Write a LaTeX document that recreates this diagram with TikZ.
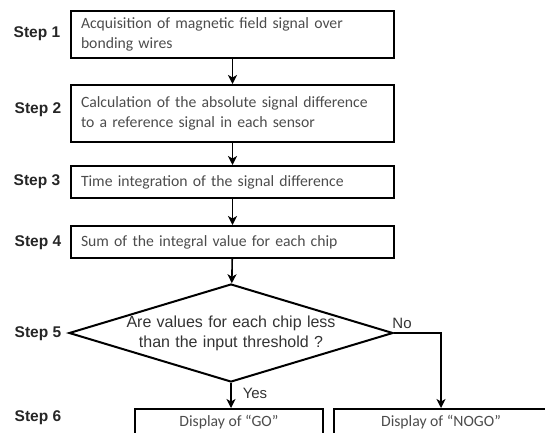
\documentclass[tikz,border=0pt]{standalone}
\usepackage{fontspec}
\setmainfont{Carlito}
\newfontfamily\arialfont{Liberation Sans}
\usetikzlibrary{shapes.geometric,arrows.meta}

\tikzset{
  stepbox/.style={draw,line width=2pt,rectangle,minimum width=323pt,inner xsep=10pt,
    text width=303pt,align=left,font=\fontsize{15.7}{20}\selectfont,text=black!70},
  steplabel/.style={font=\arialfont\bfseries\fontsize{15.5}{18}\selectfont,text=black!85},
  outbox/.style={draw,line width=2pt,rectangle,minimum height=26pt,
    font=\fontsize{15.7}{20}\selectfont,text=black!70},
  answer/.style={font=\arialfont\fontsize{15}{18}\selectfont,text=black!80},
  arr/.style={line width=1.6pt,-{Stealth[length=9pt,width=9pt,inset=2.5pt]}}
}

\begin{document}
\begin{tikzpicture}[x=1pt,y=-1pt]
    \useasboundingbox (0,0) rectangle (545,432);
    \clip (0,0) rectangle (545,432);

    \node[stepbox,minimum height=47pt] (s1) at (232.5,34.5) {Acquisition of magnetic field signal over\\bonding wires};
    \node[steplabel] (label_1) at (37,34) {Step 1};
    \node[stepbox,minimum height=57pt] (s2) at (232.5,113.5) {Calculation of the absolute signal difference\\to a reference signal in each sensor};
    \node[steplabel] (label_2) at (38,110) {Step 2};
    \node[stepbox,minimum height=32pt] (s3) at (232.5,182) {Time integration of the signal difference};
    \node[steplabel] (label_3) at (37,182) {Step 3};
    \node[stepbox,minimum height=32pt] (s4) at (232.5,242) {Sum of the integral value for each chip};
    \node[steplabel] (label_4) at (38,243) {Step 4};
    \node[draw,diamond,line width=2pt,aspect=3.6,inner xsep=0pt,inner ysep=-6pt,
          minimum width=324pt,minimum height=98pt,text width=212pt,align=center,
          font=\arialfont\fontsize{16}{20}\selectfont,text=black!80] (q) at (231,333)
          {Are values for each chip less\\than the input threshold ?};
    \node[steplabel] (label_5) at (38,334) {Step 5};
    \node[outbox,minimum width=188pt] (go) at (229,422) {Display of “GO”};
    \node[outbox,minimum width=214pt] (nogo) at (441,422) {Display of “NOGO”};
    \node[steplabel] (label_6) at (38,418) {Step 6};
    \node[answer] (no) at (402,323) {No};
    \node[answer] (yes) at (255,393) {Yes};

    \draw[arr] (s1) -- (s2);
    \draw[arr] (s2) -- (s3);
    \draw[arr] (s3) -- (s4);
    \draw[arr] (s4) -- (q);
    \draw[arr] (q.south) -- (q.south |- go.north);
    \draw[arr] (q.east) -| (nogo.north);
\end{tikzpicture}
\end{document}
